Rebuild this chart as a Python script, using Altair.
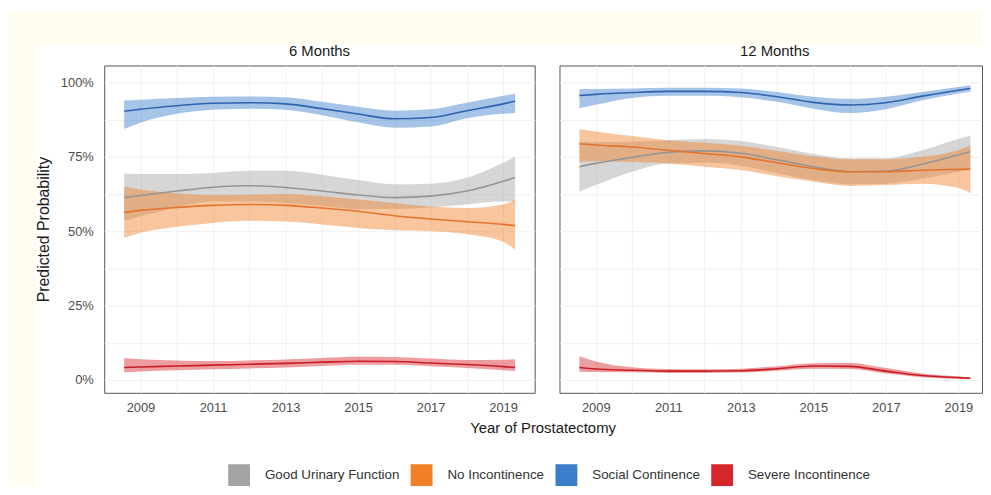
import altair as alt
import pandas as pd

years = [2008.55, 2009, 2010, 2011, 2012, 2013, 2014, 2015, 2016, 2017, 2018, 2019, 2019.33]
series = ["Good Urinary Function", "No Incontinence", "Social Continence", "Severe Incontinence"]
fill_colors = ["#a3a3a3", "#f07f26", "#3a7dc9", "#d7262b"]
line_colors = ["#959595", "#e3742c", "#2f63ad", "#c81e24"]
panels = ["6 Months", "12 Months"]

# ---- 6 Months ----
m6_good_mid = [0.613, 0.620, 0.635, 0.648, 0.653, 0.647, 0.635, 0.622, 0.613, 0.618, 0.635, 0.668, 0.681]
m6_good_lo = [0.535, 0.550, 0.580, 0.600, 0.600, 0.595, 0.585, 0.575, 0.575, 0.580, 0.590, 0.600, 0.600]
m6_good_hi = [0.694, 0.692, 0.692, 0.696, 0.703, 0.703, 0.690, 0.672, 0.658, 0.660, 0.680, 0.730, 0.750]

m6_noinc_mid = [0.563, 0.570, 0.580, 0.587, 0.590, 0.587, 0.578, 0.567, 0.552, 0.541, 0.532, 0.523, 0.519]
m6_noinc_lo = [0.478, 0.495, 0.515, 0.528, 0.535, 0.533, 0.523, 0.511, 0.503, 0.500, 0.490, 0.465, 0.439]
m6_noinc_hi = [0.650, 0.640, 0.628, 0.622, 0.623, 0.625, 0.618, 0.607, 0.595, 0.583, 0.578, 0.590, 0.606]

m6_social_mid = [0.903, 0.910, 0.922, 0.930, 0.932, 0.928, 0.912, 0.894, 0.878, 0.882, 0.905, 0.928, 0.937]
m6_social_lo = [0.844, 0.865, 0.895, 0.908, 0.912, 0.908, 0.890, 0.866, 0.848, 0.852, 0.880, 0.895, 0.897]
m6_social_hi = [0.939, 0.942, 0.948, 0.952, 0.953, 0.950, 0.935, 0.918, 0.905, 0.910, 0.932, 0.955, 0.962]

m6_severe_mid = [0.042, 0.044, 0.047, 0.050, 0.053, 0.056, 0.060, 0.063, 0.062, 0.057, 0.052, 0.045, 0.042]
m6_severe_lo = [0.026, 0.029, 0.033, 0.036, 0.039, 0.042, 0.047, 0.051, 0.051, 0.046, 0.040, 0.033, 0.030]
m6_severe_hi = [0.074, 0.070, 0.066, 0.064, 0.066, 0.069, 0.074, 0.078, 0.077, 0.072, 0.067, 0.068, 0.070]

# ---- 12 Months ----
m12_good_mid = [0.717, 0.728, 0.748, 0.765, 0.770, 0.762, 0.740, 0.717, 0.700, 0.702, 0.725, 0.757, 0.767]
m12_good_lo = [0.633, 0.655, 0.700, 0.728, 0.730, 0.720, 0.695, 0.672, 0.658, 0.660, 0.676, 0.700, 0.706]
m12_good_hi = [0.800, 0.800, 0.802, 0.806, 0.810, 0.803, 0.783, 0.760, 0.745, 0.745, 0.772, 0.810, 0.822]

m12_noinc_mid = [0.794, 0.790, 0.783, 0.772, 0.761, 0.750, 0.730, 0.711, 0.700, 0.700, 0.705, 0.708, 0.709]
m12_noinc_lo = [0.733, 0.735, 0.733, 0.728, 0.717, 0.706, 0.685, 0.667, 0.652, 0.655, 0.660, 0.645, 0.628]
m12_noinc_hi = [0.844, 0.835, 0.820, 0.806, 0.797, 0.787, 0.770, 0.752, 0.742, 0.742, 0.750, 0.773, 0.789]

m12_social_mid = [0.956, 0.960, 0.966, 0.970, 0.970, 0.966, 0.952, 0.933, 0.924, 0.932, 0.954, 0.974, 0.980]
m12_social_lo = [0.913, 0.925, 0.948, 0.955, 0.955, 0.950, 0.935, 0.912, 0.897, 0.910, 0.940, 0.963, 0.969]
m12_social_hi = [0.978, 0.978, 0.980, 0.982, 0.982, 0.980, 0.968, 0.952, 0.945, 0.952, 0.968, 0.985, 0.991]

m12_severe_mid = [0.042, 0.037, 0.033, 0.030, 0.030, 0.031, 0.038, 0.047, 0.046, 0.030, 0.015, 0.008, 0.006]
m12_severe_lo = [0.028, 0.027, 0.026, 0.024, 0.024, 0.025, 0.031, 0.038, 0.037, 0.022, 0.009, 0.004, 0.003]
m12_severe_hi = [0.080, 0.062, 0.043, 0.037, 0.036, 0.038, 0.046, 0.056, 0.057, 0.040, 0.022, 0.012, 0.009]

x_values = [2009, 2010, 2011, 2012, 2013, 2014, 2015, 2016, 2017, 2018, 2019]
y_values = [0, 0.125, 0.25, 0.375, 0.5, 0.625, 0.75, 0.875, 1.0]

table = {
    "6 Months": [
        (m6_good_mid, m6_good_lo, m6_good_hi),
        (m6_noinc_mid, m6_noinc_lo, m6_noinc_hi),
        (m6_social_mid, m6_social_lo, m6_social_hi),
        (m6_severe_mid, m6_severe_lo, m6_severe_hi),
    ],
    "12 Months": [
        (m12_good_mid, m12_good_lo, m12_good_hi),
        (m12_noinc_mid, m12_noinc_lo, m12_noinc_hi),
        (m12_social_mid, m12_social_lo, m12_social_hi),
        (m12_severe_mid, m12_severe_lo, m12_severe_hi),
    ],
}


def make_df(panel):
    rows = []
    for s, (mid, lo, hi) in zip(series, table[panel]):
        for yr, m, l, h in zip(years, mid, lo, hi):
            rows.append({"series": s, "year": yr, "mid": m, "lo": l, "hi": h})
    return pd.DataFrame(rows)


fill_scale = alt.Scale(domain=series, range=fill_colors)
stroke_scale = alt.Scale(domain=series, range=line_colors)
y_scale = alt.Scale(domain=[-0.043, 1.057], nice=False, zero=False)

legend = alt.Legend(
    title=None, orient="none", direction="horizontal", legendX=125, legendY=402,
    symbolType="square", symbolSize=484, symbolOpacity=1, symbolStrokeWidth=0,
    labelFontSize=13.5, labelColor="#333333", labelOffset=15, columnPadding=11, padding=0,
)

y_label_expr = "abs(datum.value*4 - round(datum.value*4)) < 0.001 ? format(datum.value, '.0%') : ''"
x_label_expr = "datum.value % 2 == 1 ? format(datum.value, 'd') : ''"

cream = "#fffcf0"
bg_df = pd.DataFrame({"k": [0]})


def panel_chart(panel, xmax, width, first):
    df = make_df(panel)
    if first:
        yaxis = alt.Axis(values=y_values, labelExpr=y_label_expr, title="Predicted Probability",
                         labelPadding=11, titleX=-61, titleY=165, titleBaseline="middle",
                         titleAlign="center", titleFontSize=16)
        xaxis = alt.Axis(values=x_values, labelExpr=x_label_expr, title="Year of Prostatectomy",
                         labelPadding=9, labelOverlap=False, titleX=442, titleY=35,
                         titleBaseline="middle", titleAlign="center", titleFontSize=15)
    else:
        yaxis = alt.Axis(values=y_values, labels=False, title=None)
        xaxis = alt.Axis(values=x_values, labelExpr=x_label_expr, title=None,
                         labelPadding=9, labelOverlap=False)
    x = alt.X("year:Q", scale=alt.Scale(domain=[2008.0, xmax], nice=False, zero=False), axis=xaxis)
    base = alt.Chart(df)
    band = base.mark_area(opacity=0.45, interpolate="monotone").encode(
        x=x,
        y=alt.Y("lo:Q", scale=y_scale, axis=yaxis),
        y2="hi:Q",
        fill=alt.Fill("series:N", scale=fill_scale, legend=legend, sort=series),
    )
    line = base.mark_line(strokeWidth=1.6, interpolate="monotone").encode(
        x=x,
        y=alt.Y("mid:Q", scale=y_scale, axis=yaxis),
        stroke=alt.Stroke("series:N", scale=stroke_scale, legend=None, sort=series),
    )
    # panel strip label
    strip = alt.Chart(pd.DataFrame({"label": [panel]})).mark_text(
        clip=False, fontSize=15, color="#1a1a1a", align="center", baseline="middle"
    ).encode(text="label:N", x=alt.value(217), y=alt.value(-15))
    layers = [band, line, strip]
    if first:
        # cream page backdrop outside the white card (top strip and left strip)
        top_strip = alt.Chart(bg_df).mark_rect(clip=False, color=cream).encode(
            x=alt.value(-96), x2=alt.value(885), y=alt.value(-55), y2=alt.value(-21))
        left_strip = alt.Chart(bg_df).mark_rect(clip=False, color=cream).encode(
            x=alt.value(-96), x2=alt.value(-69), y=alt.value(-55), y2=alt.value(424))
        layers = [top_strip, left_strip] + layers
    return alt.layer(*layers).properties(width=width, height=330)


p1 = panel_chart("6 Months", 2019.87, 434, True)
p2 = panel_chart("12 Months", 2008.0 + 426 / 434 * 11.87, 426, False)

chart = (
    alt.hconcat(p1, p2, spacing=25, bounds="flush")
    .resolve_scale(fill="shared", stroke="shared")
    .properties(padding={"left": 0, "top": 0, "right": 0, "bottom": 0})
    .configure(font="Liberation Sans")
    .configure_view(stroke="#555555", strokeWidth=1)
    .configure_axis(gridColor="#f0f0f0", gridWidth=1, labelColor="#4d4d4d", labelFontSize=13,
                    titleColor="#1a1a1a", titleFontWeight="normal", domain=False, ticks=False,
                    tickSize=0)
)

chart.save("out.html", embed_options={"renderer": "svg", "actions": False})
